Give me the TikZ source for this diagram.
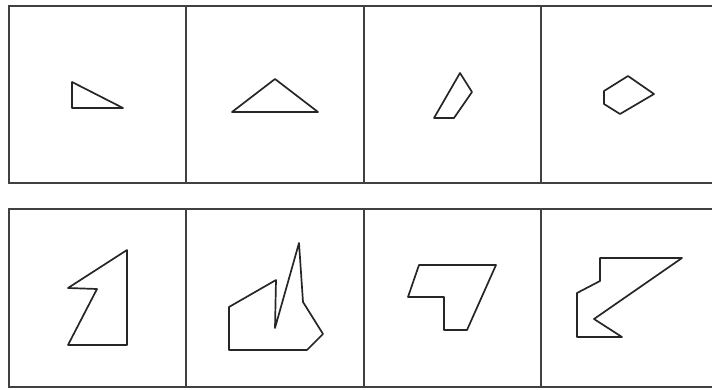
\documentclass[tikz,border=0pt]{standalone}
\begin{document}
\begin{tikzpicture}[x=1pt,y=-1pt,
  framestyle/.style={line width=2pt,draw=black!75,line cap=rect},
  polystyle/.style={line width=1.7pt,draw=black!85,line join=round}]
\useasboundingbox (0,0) rectangle (712,390);
% top row frame
\draw[framestyle] (712,6) -- (9,6) -- (9,183) -- (712,183);
\foreach \x in {186,364,541} \draw[framestyle] (\x,6) -- (\x,183);
% bottom row frame
\draw[framestyle] (712,209) -- (9,209) -- (9,387) -- (712,387);
\foreach \x in {186,364,541} \draw[framestyle] (\x,209) -- (\x,387);
% top shapes
\draw[polystyle] (72,82) -- (72,108) -- (123,108) -- cycle;
\draw[polystyle] (232,112) -- (275,79) -- (318,112) -- cycle;
\draw[polystyle] (460,73) -- (472,92) -- (454,118) -- (434,118) -- cycle;
\draw[polystyle] (628,76) -- (654,94) -- (620,114) -- (604,104) -- (604,91) -- cycle;
% bottom shapes
\draw[polystyle] (127,250) -- (127,345) -- (68,345) -- (97,289) -- (68,288) -- cycle;
\draw[polystyle] (229,307) -- (276,280) -- (275,328) -- (299,243) -- (303,302) -- (323,334) -- (307,350) -- (229,350) -- cycle;
\draw[polystyle] (419,265) -- (496,265) -- (467,330) -- (444,330) -- (444,297) -- (408,297) -- cycle;
\draw[polystyle] (600,258) -- (682,258) -- (594,319) -- (622,337) -- (577,337) -- (577,293) -- (600,281) -- cycle;
\end{tikzpicture}
\end{document}
